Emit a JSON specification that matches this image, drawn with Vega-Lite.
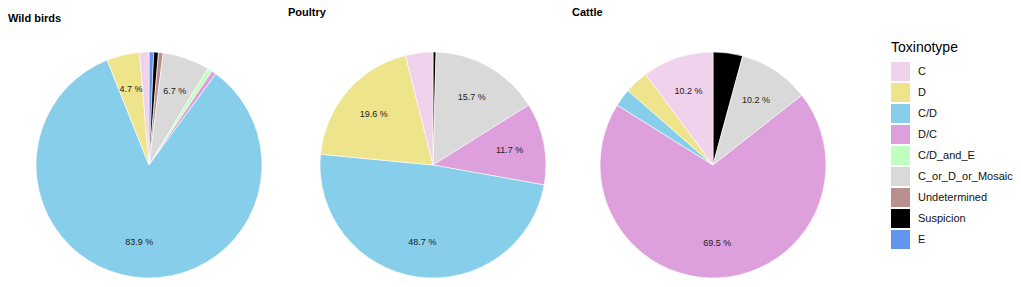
{
  "$schema": "https://vega.github.io/schema/vega-lite/v6.json",
  "background": "white",
  "padding": {"left": 8, "top": 6, "right": 0, "bottom": 0},
  "config": {
    "view": {"stroke": null},
    "font": "Liberation Sans",
    "concat": {"spacing": -2}
  },
  "data": {
    "values": [
      {"species": "Wild birds", "toxinotype": "E", "count": 1, "ord": 1, "label": ""},
      {"species": "Wild birds", "toxinotype": "Suspicion", "count": 1, "ord": 2, "label": ""},
      {"species": "Wild birds", "toxinotype": "Undetermined", "count": 1, "ord": 3, "label": ""},
      {"species": "Wild birds", "toxinotype": "C_or_D_or_Mosaic", "count": 10, "ord": 4, "label": "6.7 %"},
      {"species": "Wild birds", "toxinotype": "C/D_and_E", "count": 1, "ord": 5, "label": ""},
      {"species": "Wild birds", "toxinotype": "D/C", "count": 1, "ord": 6, "label": ""},
      {"species": "Wild birds", "toxinotype": "C/D", "count": 125, "ord": 7, "label": "83.9 %"},
      {"species": "Wild birds", "toxinotype": "D", "count": 7, "ord": 8, "label": "4.7 %"},
      {"species": "Wild birds", "toxinotype": "C", "count": 2, "ord": 9, "label": ""},
      {"species": "Poultry", "toxinotype": "Suspicion", "count": 1, "ord": 2, "label": ""},
      {"species": "Poultry", "toxinotype": "C_or_D_or_Mosaic", "count": 36, "ord": 4, "label": "15.7 %"},
      {"species": "Poultry", "toxinotype": "D/C", "count": 27, "ord": 6, "label": "11.7 %"},
      {"species": "Poultry", "toxinotype": "C/D", "count": 112, "ord": 7, "label": "48.7 %"},
      {"species": "Poultry", "toxinotype": "D", "count": 45, "ord": 8, "label": "19.6 %"},
      {"species": "Poultry", "toxinotype": "C", "count": 9, "ord": 9, "label": ""},
      {"species": "Cattle", "toxinotype": "Suspicion", "count": 5, "ord": 2, "label": ""},
      {"species": "Cattle", "toxinotype": "C_or_D_or_Mosaic", "count": 12, "ord": 4, "label": "10.2 %"},
      {"species": "Cattle", "toxinotype": "D/C", "count": 82, "ord": 6, "label": "69.5 %"},
      {"species": "Cattle", "toxinotype": "C/D", "count": 3, "ord": 7, "label": ""},
      {"species": "Cattle", "toxinotype": "D", "count": 4, "ord": 8, "label": ""},
      {"species": "Cattle", "toxinotype": "C", "count": 12, "ord": 9, "label": "10.2 %"}
    ]
  },
  "resolve": {"scale": {"theta": "independent"}},
  "hconcat": [
    {
      "title": {"text": "Wild birds", "anchor": "start", "offset": 33, "dy": 6, "fontSize": 11, "fontWeight": "bold", "color": "black"},
      "width": 282, "height": 228,
      "transform": [{"filter": "datum.species === 'Wild birds'"}],
      "layer": [
        {
          "mark": {"type": "arc", "outerRadius": 113, "stroke": "white", "strokeWidth": 0.6},
          "encoding": {
            "theta": {"field": "count", "type": "quantitative", "stack": true},
            "order": {"field": "ord", "type": "quantitative"},
            "color": {
              "field": "toxinotype", "type": "nominal",
              "scale": {
                "domain": ["C", "D", "C/D", "D/C", "C/D_and_E", "C_or_D_or_Mosaic", "Undetermined", "Suspicion", "E"],
                "range": ["#F0D2EC", "#EEE48C", "#87CEEB", "#DDA0DD", "#C1FFC1", "#D9D9D9", "#BC8F8F", "#000000", "#6495ED"]
              },
              "legend": {
                "title": "Toxinotype", "orient": "none", "legendX": 883, "legendY": -10,
                "titleFontSize": 14, "titleFontWeight": "normal", "titleColor": "black", "titlePadding": 7,
                "labelFontSize": 11, "labelColor": "#111", "labelOffset": 8,
                "symbolType": "square", "symbolSize": 361, "symbolStrokeWidth": 0, "symbolOpacity": 1, "rowPadding": 2
              }
            }
          }
        },
        {
          "mark": {"type": "text", "radius": 78, "fontSize": 9, "color": "#222"},
          "encoding": {
            "theta": {"field": "count", "type": "quantitative", "stack": true},
            "order": {"field": "ord", "type": "quantitative"},
            "text": {"field": "label"}
          }
        }
      ]
    },
    {
      "title": {"text": "Poultry", "anchor": "start", "offset": 33, "dx": -4, "fontSize": 11, "fontWeight": "bold", "color": "black"},
      "width": 282, "height": 228,
      "transform": [{"filter": "datum.species === 'Poultry'"}],
      "layer": [
        {
          "mark": {"type": "arc", "outerRadius": 113, "stroke": "white", "strokeWidth": 0.6},
          "encoding": {
            "theta": {"field": "count", "type": "quantitative", "stack": true},
            "order": {"field": "ord", "type": "quantitative"},
            "color": {"field": "toxinotype", "type": "nominal"}
          }
        },
        {
          "mark": {"type": "text", "radius": 78, "fontSize": 9, "color": "#222"},
          "encoding": {
            "theta": {"field": "count", "type": "quantitative", "stack": true},
            "order": {"field": "ord", "type": "quantitative"},
            "text": {"field": "label"}
          }
        }
      ]
    },
    {
      "title": {"text": "Cattle", "anchor": "start", "offset": 33, "dx": -6, "fontSize": 11, "fontWeight": "bold", "color": "black"},
      "width": 270, "height": 228,
      "transform": [{"filter": "datum.species === 'Cattle'"}],
      "layer": [
        {
          "mark": {"type": "arc", "outerRadius": 113, "stroke": "white", "strokeWidth": 0.6},
          "encoding": {
            "theta": {"field": "count", "type": "quantitative", "stack": true},
            "order": {"field": "ord", "type": "quantitative"},
            "color": {"field": "toxinotype", "type": "nominal"}
          }
        },
        {
          "mark": {"type": "text", "radius": 78, "fontSize": 9, "color": "#222"},
          "encoding": {
            "theta": {"field": "count", "type": "quantitative", "stack": true},
            "order": {"field": "ord", "type": "quantitative"},
            "text": {"field": "label"}
          }
        }
      ]
    }
  ]
}
